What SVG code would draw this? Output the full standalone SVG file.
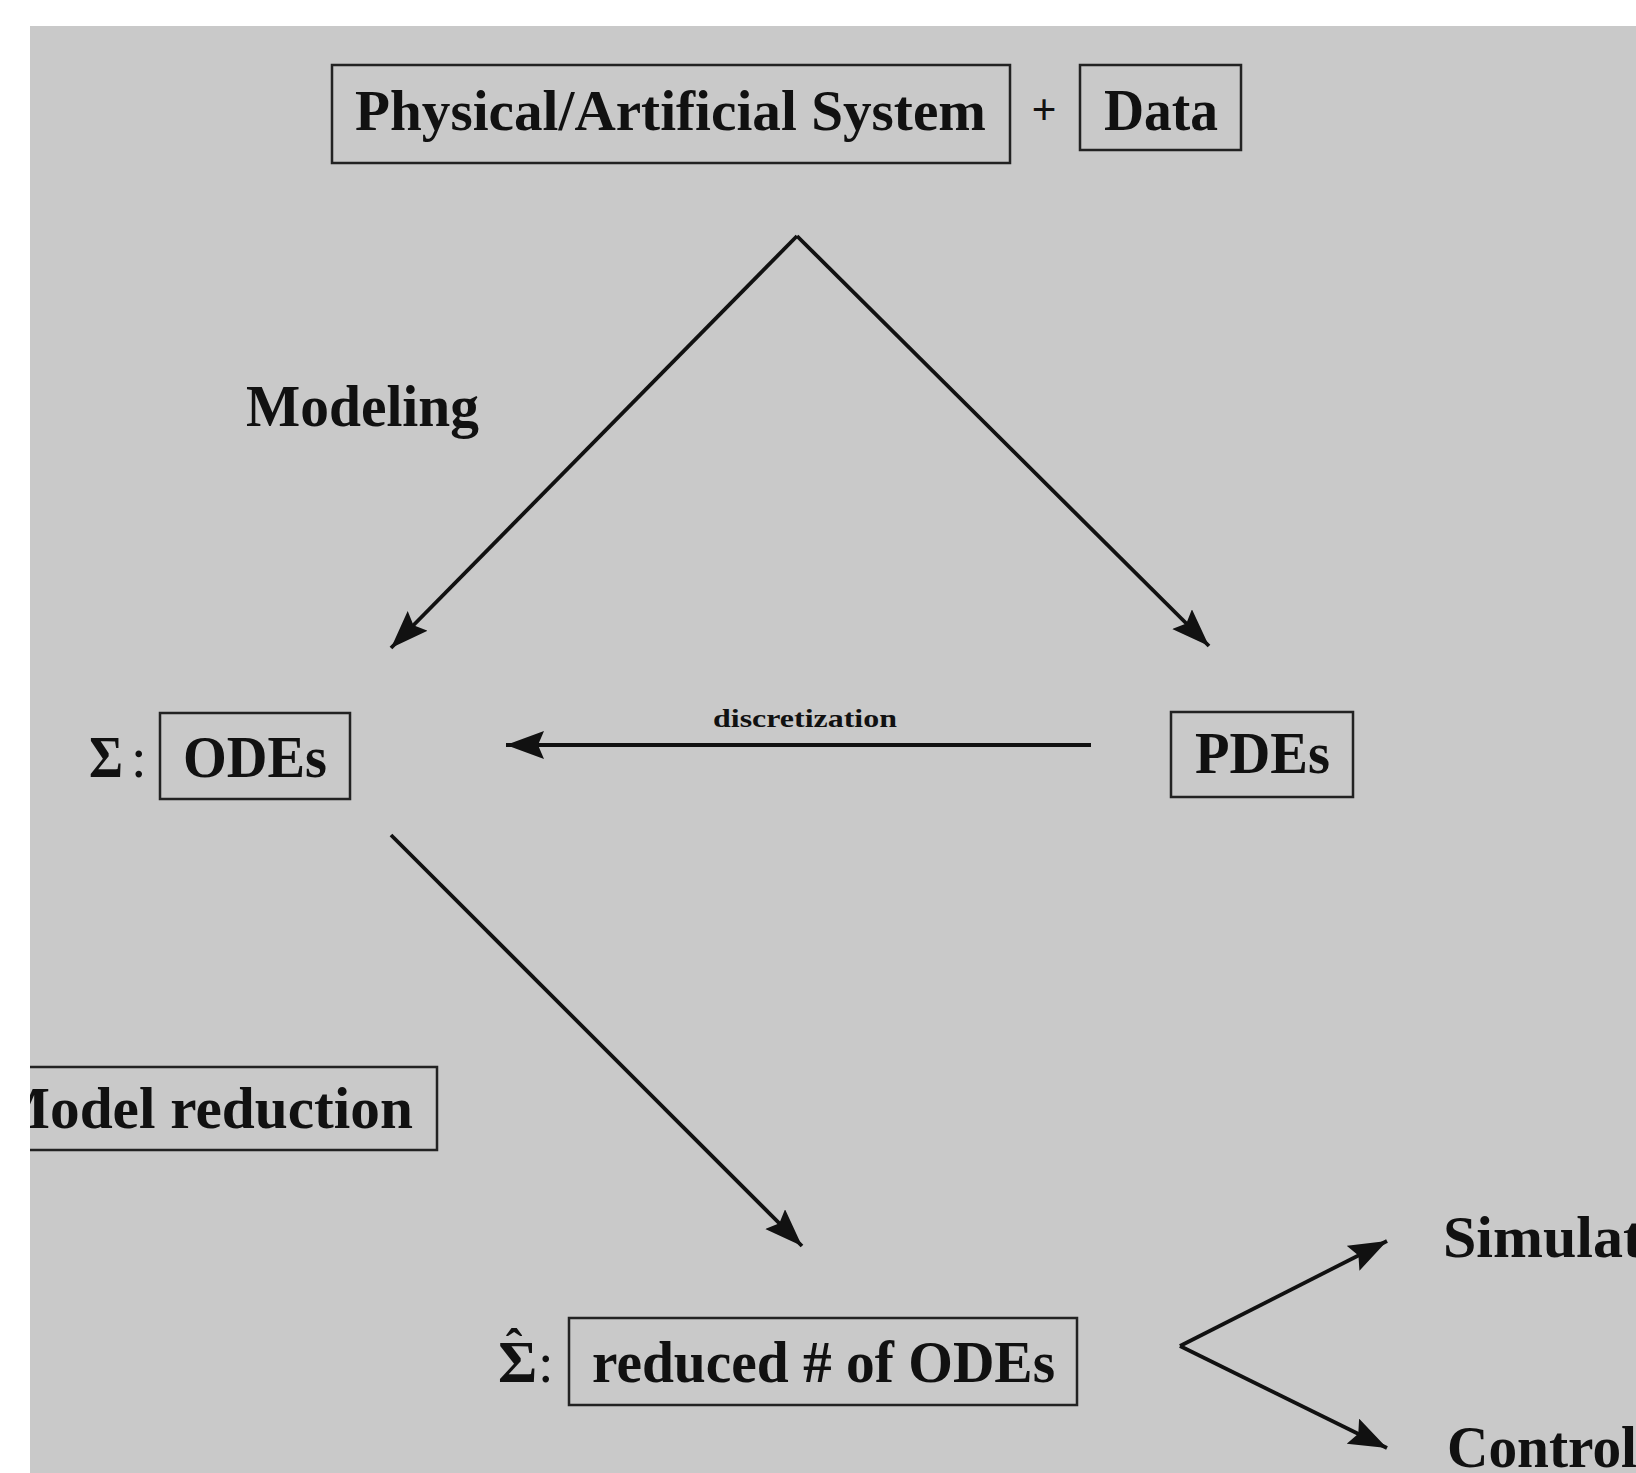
<svg xmlns="http://www.w3.org/2000/svg" width="1636" height="1473" viewBox="0 0 1636 1473">
<style>
.t{font-family:"Liberation Serif","Times New Roman",serif;font-weight:bold;fill:#111;}
.r{font-family:"Liberation Serif","Times New Roman",serif;font-weight:normal;fill:#111;}
.box{fill:none;stroke:#222;stroke-width:2.5;}
.ln{fill:none;stroke:#111;stroke-width:3.8;}
</style>
<defs>
<marker id="ah" markerUnits="userSpaceOnUse" markerWidth="44" markerHeight="32" refX="38" refY="14" orient="auto">
<path d="M0,0 L38,14 L0,28 L6,14 z" fill="#111"/>
</marker>
<clipPath id="gray"><rect x="30" y="26" width="1606" height="1447"/></clipPath>
</defs>
<rect x="0" y="0" width="1636" height="1473" fill="#ffffff"/>
<rect x="30" y="26" width="1606" height="1447" fill="#c9c9c9"/>
<g clip-path="url(#gray)">
<g id="connectors">
<path class="ln" d="M797,236 L391,648" marker-end="url(#ah)"/>
<path class="ln" d="M797,236 L1209,646" marker-end="url(#ah)"/>
<path class="ln" d="M1091,745 L506,745" marker-end="url(#ah)"/>
<path class="ln" d="M391,835 L802,1246" marker-end="url(#ah)"/>
<path class="ln" d="M1180,1346 L1387,1241" marker-end="url(#ah)"/>
<path class="ln" d="M1180,1346 L1387,1448" marker-end="url(#ah)"/>
<text class="t" x="713" y="727" font-size="26" textLength="184" lengthAdjust="spacingAndGlyphs">discretization</text>
</g>
<g id="system">
<rect class="box" x="332" y="65" width="678" height="98"/>
<text class="t" x="355" y="130" font-size="58" textLength="631" lengthAdjust="spacingAndGlyphs">Physical/Artificial System</text>
</g>
<g id="plus">
<text class="t" x="1044" y="124" font-size="44" text-anchor="middle">+</text>
</g>
<g id="data">
<rect class="box" x="1080" y="65" width="161" height="85"/>
<text class="t" x="1104" y="130" font-size="60" textLength="114" lengthAdjust="spacingAndGlyphs">Data</text>
</g>
<g id="modeling">
<text class="t" x="246" y="426" font-size="60" textLength="233" lengthAdjust="spacingAndGlyphs">Modeling</text>
</g>
<g id="odes">
<text class="t" x="89" y="777" font-size="60" textLength="34" lengthAdjust="spacingAndGlyphs">Σ</text>
<text class="r" x="131" y="777" font-size="56">:</text>
<rect class="box" x="160" y="713" width="190" height="86"/>
<text class="t" x="183" y="777" font-size="60" textLength="144" lengthAdjust="spacingAndGlyphs">ODEs</text>
</g>
<g id="pdes">
<rect class="box" x="1171" y="712" width="182" height="85"/>
<text class="t" x="1195" y="773" font-size="60" textLength="135" lengthAdjust="spacingAndGlyphs">PDEs</text>
</g>
<g id="model-reduction">
<rect class="box" x="-10" y="1067" width="447" height="83"/>
<text class="t" x="-6" y="1128" font-size="60" textLength="419" lengthAdjust="spacingAndGlyphs">Model reduction</text>
</g>
<g id="reduced">
<text class="t" x="498" y="1382" font-size="60">Σ<tspan x="514" y="1364" font-size="50" text-anchor="middle">ˆ</tspan></text>
<text class="r" x="538" y="1382" font-size="56">:</text>
<rect class="box" x="569" y="1318" width="508" height="87"/>
<text class="t" x="592" y="1382" font-size="60" textLength="463" lengthAdjust="spacingAndGlyphs">reduced # of ODEs</text>
</g>
<g id="simulation">
<text class="t" x="1443" y="1257" font-size="60" textLength="200" lengthAdjust="spacingAndGlyphs">Simulat</text>
</g>
<g id="control">
<text class="t" x="1447" y="1467" font-size="60" textLength="190" lengthAdjust="spacingAndGlyphs">Control</text>
</g>
</g>
</svg>
